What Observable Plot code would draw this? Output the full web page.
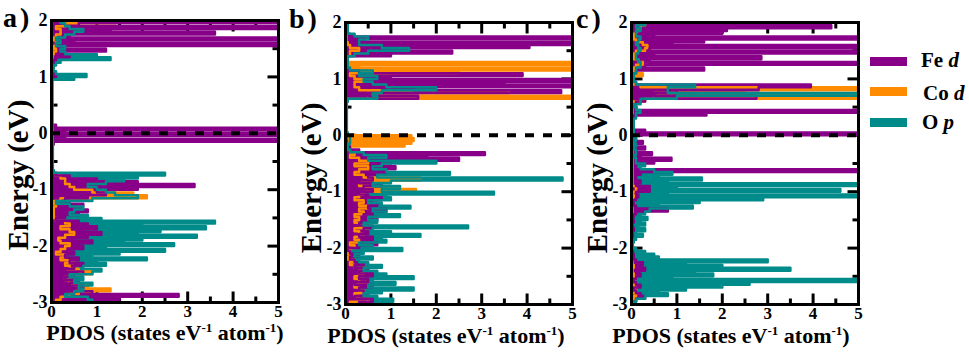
<!DOCTYPE html>
<html><head><meta charset="utf-8">
<script src="https://cdn.jsdelivr.net/npm/d3@7"></script>
<script src="https://cdn.jsdelivr.net/npm/@observablehq/plot@0.6"></script>
<style>
body{margin:0;background:#fff;}
#wrap{position:relative;width:969px;height:354px;overflow:hidden;color:#000;}
#overlay{position:absolute;left:0;top:0;}
#overlay text{font-family:'Liberation Serif',serif;font-weight:bold;}
.pbox{position:absolute;top:0;}
.pbox svg text{font-family:'Liberation Serif',serif !important;font-weight:bold !important;}
</style></head>
<body>
<div id="wrap">
<svg id="overlay" width="969" height="354" fill="#000">
  <text x="3" y="27" font-size="28" letter-spacing="3">a)</text>
  <text x="289" y="28" font-size="28" letter-spacing="3">b)</text>
  <text x="576" y="28" font-size="28" letter-spacing="3">c)</text>
  <text transform="translate(28,175) rotate(-90)" text-anchor="middle" font-size="29">Energy (eV)</text>
  <text transform="translate(321,178) rotate(-90)" text-anchor="middle" font-size="29">Energy (eV)</text>
  <text transform="translate(607,178) rotate(-90)" text-anchor="middle" font-size="29">Energy (eV)</text>
  <text x="165" y="340" text-anchor="middle" font-size="22">PDOS (states eV<tspan dy="-8" font-size="13">-1</tspan><tspan dy="8"> atom</tspan><tspan dy="-8" font-size="13">-1</tspan><tspan dy="8">)</tspan></text>
  <text x="446" y="343" text-anchor="middle" font-size="22">PDOS (states eV<tspan dy="-8" font-size="13">-1</tspan><tspan dy="8"> atom</tspan><tspan dy="-8" font-size="13">-1</tspan><tspan dy="8">)</tspan></text>
  <text x="731" y="343" text-anchor="middle" font-size="22">PDOS (states eV<tspan dy="-8" font-size="13">-1</tspan><tspan dy="8"> atom</tspan><tspan dy="-8" font-size="13">-1</tspan><tspan dy="8">)</tspan></text>
  <g id="legend"></g>
</svg>
<div id="pa" class="pbox" style="left:0px"></div>
<div id="pb" class="pbox" style="left:294px"></div>
<div id="pc" class="pbox" style="left:580px"></div>
</div>
<script>
// Energy grid (eV)
const energy = [-3,-2.95,-2.9,-2.85,-2.8,-2.75,-2.7,-2.65,-2.6,-2.55,-2.5,-2.45,-2.4,-2.35,-2.3,-2.25,-2.2,-2.15,-2.1,-2.05,-2,-1.95,-1.9,-1.85,-1.8,-1.75,-1.7,-1.65,-1.6,-1.55,-1.5,-1.45,-1.4,-1.35,-1.3,-1.25,-1.2,-1.15,-1.1,-1.05,-1,-0.95,-0.9,-0.85,-0.8,-0.75,-0.7,-0.65,-0.6,-0.55,-0.5,-0.45,-0.4,-0.35,-0.3,-0.25,-0.2,-0.15,-0.1,-0.05,0,0.05,0.1,0.15,0.2,0.25,0.3,0.35,0.4,0.45,0.5,0.55,0.6,0.65,0.7,0.75,0.8,0.85,0.9,0.95,1,1.05,1.1,1.15,1.2,1.25,1.3,1.35,1.4,1.45,1.5,1.55,1.6,1.65,1.7,1.75,1.8,1.85,1.9,1.95,2];

// Panel a
const feA = [0.3,1.5,2.8,0.9,0.5,0.7,0.4,0.6,0.3,0.5, 0.7,0.3,0.5,0.7,0.4,0.6,0.3,0.5,0.4,0.7, 0.6,0.9,0.5,0.8,1.1,0.7,1.0,0.8,0.6,0.1, 0.3,0.6,0.8,0.5,0.7,0.4,0.3,0.8,1.2,1.0, 1.9,3.15,1.9,1.0,0.4,0.1,0.02,0.01,0.01,0.01, 0.01,0.01,0.01,0.01,0.01,0.01,0.05,5,0.3,5, 0.3,5,0.1,0.01,0.01,0.01,0.01,0.01,0.01,0.01, 0.01,0.01,0.01,0.01,0.01,0.01,0.01,0.01,0.01,0.02, 0.1,0.05,0.02,0.02,0.02,0.05,0.1,0.4,0.2,1.2, 0.3,5,0.5,5,0.4,3.6,1.3,5,0.6,5, 1.4];
const coA = [0.1,0.2,0.4,0.6,1.3,0.8,0.5,0.4,0.3,0.5, 0.9,0.6,0.4,0.3,0.5,0.2,0.3,0.1,0.2,0.3, 0.4,0.2,0.15,0.3,0.5,0.4,0.2,0.4,0.3,0.1, 0.05,0.05,0.05,0.05,0.1,0.05,0.2,2.1,1.8,0.9, 0.5,0.4,0.3,0.3,0.2,0.1,0.01,0.01,0.01,0.01, 0.01,0.01,0.01,0.01,0.01,0.01,0.01,0.01,0.01,0.01, 0.01,0.01,0.01,0.01,0.01,0.01,0.01,0.01,0.01,0.01, 0.01,0.01,0.01,0.01,0.01,0.01,0.01,0.01,0.01,0.01, 0.01,0.01,0.01,0.01,0.01,0.01,0.02,0.02,0.05,0.1, 0.05,0.1,0.1,0.05,0.1,0.2,0.2,0.1,0.3,1.4, 0.8];
const opA = [0.9,0.8,0.3,0.5,0.7,0.6,0.9,0.5,0.7,0.4, 0.9,1.1,0.7,1.2,1.0,2.1,0.9,1.5,2.5,1.2, 2.7,1.6,2.0,3.2,1.9,2.4,3.4,2.0,3.6,1.1, 0.8,0.4,0.5,0.7,0.4,0.1,0.9,1.9,1.4,1.2, 1.0,0.8,1.2,1.6,1.9,2.5,0.05,0.03,0.03,0.03, 0.03,0.03,0.03,0.03,0.03,0.03,0.03,0.03,0.03,0.03, 0.03,0.02,0.02,0.02,0.02,0.02,0.02,0.02,0.02,0.02, 0.02,0.02,0.02,0.02,0.02,0.02,0.02,0.02,0.02,0.5, 0.77,0.1,0.05,0.05,0.1,0.2,1.3,1.0,0.3,0.2, 0.3,0.1,0.2,0.1,0.3,0.5,0.7,0.4,0.3,0.2, 0.1];

// Panel b
const feB = [0.3,0.6,0.2,0.5,0.4,0.3,0.6,0.2,0.5,0.3, 0.6,0.3,0.5,0.2,0.4,0.2,0.1,0.3,0.1,0.05, 0.3,0.7,0.4,0.6,0.3,0.5,0.4,0.6,0.3,0.5, 0.7,0.4,0.6,0.9,0.5,0.7,0.6,0.8,0.5,0.3, 0.6,0.4,0.8,0.3,0.6,0.5,0.9,0.6,1.1,0.7, 1.0,2.5,1.8,3.07,0.3,0.1,0.05,0.03,0.02,0.02, 0.01,0.01,0.01,0.01,0.01,0.01,0.01,0.01,0.01,0.01, 0.01,0.01,0.05,1.6,0.5,4.75,1.5,5,3.5,5, 1.0,3.9,0.3,0.05,0.05,0.05,0.05,0.05,1.0,2.35, 0.8,4.05,5,0.4,5,0.1,0.02,0.02,0.02,0.02, 0.02];
const coB = [0.1,0.5,0.3,0.2,0.4,0.3,0.2,0.5,0.3,0.2, 0.4,0.3,0.5,0.2,0.1,0.2,0.05,0.1,0.05,0.1, 0.2,0.1,0.3,0.2,0.4,0.3,0.2,0.5,0.3,0.2, 0.3,0.2,0.4,0.3,0.5,0.3,0.4,0.2,0.3,0.4, 1.55,0.6,0.3,0.5,1.65,0.4,0.2,0.3,0.5,0.2, 0.5,0.3,0.1,0.2,0.1,0.05,1.3,1.45,1.5,1.45, 0.05,0.01,0.01,0.01,0.01,0.01,0.01,0.01,0.01,0.01, 0.01,0.01,0.02,5,0.5,3.6,0.3,0.2,0.2,0.4, 0.2,0.1,2.5,5,0.3,5,0.02,0.02,0.1,0.1, 0.3,0.1,0.05,0.02,0.02,0.02,0.02,0.02,0.02,0.02, 0.02];
const opB = [0.9,1.05,0.7,0.4,0.8,1.5,0.5,1.1,0.6,1.5, 0.9,0.7,0.4,0.8,0.5,0.3,0.6,0.2,0.4,1.25, 0.6,0.3,0.9,0.8,1.65,1.0,0.6,2.7,0.4,0.7, 0.5,1.2,0.9,0.6,1.43,0.8,0.5,1.0,0.9,3.27, 0.8,1.2,0.6,1.0,4.78,0.7,2.3,0.9,0.6,0.8, 2.0,0.5,0.9,0.4,0.1,0.05,0.05,0.1,0.1,0.1, 0.05,0.03,0.03,0.03,0.03,0.03,0.03,0.03,0.03,0.03, 0.03,0.03,0.05,0.7,0.6,0.8,2.0,0.9,0.6,0.4, 0.7,0.3,0.6,0.1,0.05,0.05,0.05,0.05,0.2,0.5, 1.4,0.8,0.3,0.3,0.5,0.2,0.05,0.05,0.05,0.05, 0.05];

// Panel c
const feC = [0.05,0.1,0.3,0.2,0.1,0.05,0.2,0.1,0.05,0.1, 0.2,0.15,0.3,0.2,0.25,0.1,0.05,0.05,0.03,0.02, 0.02,0.02,0.03,0.02,0.03,0.02,0.05,0.03,0.02,0.05, 0.03,0.05,0.1,0.8,0.1,0.05,0.03,0.1,0.15,0.1, 0.4,0.4,0.1,0.2,0.1,0.1,0.2,5,0.1,0.1, 0.5,0.88,0.2,0.45,0.1,0.3,0.1,0.25,0.1,0.05, 5,0.3,0.05,0.02,0.02,0.02,0.05,1.65,5,0.1, 0.05,0.1,0.3,2.75,0.5,1.0,2.8,3.95,0.1,0.05, 0.05,0.05,0.1,1.6,0.3,5,0.4,2.86,0.5,5, 0.4,5,0.9,1.6,5,0.5,2.0,2.1,4.4,0.5, 4.45];
const coC = [0.02,0.1,0.05,0.1,0.05,0.1,0.05,0.1,0.05,0.1, 0.05,0.02,0.02,0.05,0.02,0.02,0.05,0.02,0.02,0.02, 0.02,0.02,0.02,0.02,0.02,0.02,0.02,0.02,0.02,0.02, 0.02,0.02,0.02,0.02,0.02,0.02,0.02,0.02,0.05,0.02, 0.1,0.1,0.02,0.02,0.02,0.02,0.02,0.02,0.02,0.02, 0.02,0.02,0.02,0.02,0.02,0.02,0.02,0.02,0.02,0.02, 0.02,0.02,0.02,0.02,0.02,0.02,0.02,0.02,0.02,0.02, 0.02,0.02,0.3,5,0.5,2.5,5,0.2,0.05,0.05, 0.05,0.25,0.05,0.05,0.1,0.25,0.15,0.05,0.05,0.1, 0.3,0.35,0.25,0.1,0.05,0.05,0.1,0.15,0.2,0.3, 0.2];
const opC = [0.05,0.1,0.3,0.8,0.6,1.2,2.0,2.6,5,0.9, 1.8,1.4,3.5,2.0,1.2,3.0,0.6,0.5,0.3,0.1, 0.03,0.03,0.05,0.1,0.25,0.1,0.3,0.15,0.3,0.2, 0.35,0.2,0.3,0.4,1.35,0.6,1.5,2.9,5,0.8, 4.6,1.0,5,0.8,1.55,0.6,0.9,0.5,0.2,0.3, 0.1,0.1,0.05,0.1,0.1,0.05,0.1,0.05,0.1,0.05, 0.05,0.05,0.05,0.05,0.05,0.05,0.1,0.1,0.2,0.1, 0.05,0.2,0.2,1.0,5,0.8,0.8,1.4,0.1,0.05, 0.05,0.05,0.1,0.1,0.2,0.2,0.15,0.1,0.1,0.15, 0.2,0.15,0.1,0.15,0.2,0.1,0.1,0.2,0.1,0.3, 0.2];

// Ticks and legend
const xMajor = [0,1,2,3,4,5];
const xMinor = [0.5,1.5,2.5,3.5,4.5];
const yMajor = [-3,-2,-1,0,1,2];
const yMinor = [-2.5,-1.5,-0.5,0.5,1.5];
const seriesNames = ["Fe d","Co d","O p"];
const seriesColors = ["#880088","#ff8c00","#008b8b"];

const PURPLE = seriesColors[0], ORANGE = seriesColors[1], TEAL = seriesColors[2];
const FONT = "'Liberation Serif', serif";
const CV = "step-before";

function seg(dx, dy) { return {draw(ctx) { ctx.moveTo(0, 0); ctx.lineTo(dx, dy); }}; }

function tickMarks(xs, ys, len) {
  const s = {stroke: "black", strokeWidth: 3, fill: "none"};
  return [
    Plot.dot(xs, {x: d => d, frameAnchor: "bottom", symbol: seg(0, -len), ...s}),
    Plot.dot(xs, {x: d => d, frameAnchor: "top", symbol: seg(0, len), ...s}),
    Plot.dot(ys, {y: d => d, frameAnchor: "left", symbol: seg(len, 0), ...s}),
    Plot.dot(ys, {y: d => d, frameAnchor: "right", symbol: seg(-len, 0), ...s})
  ];
}

const fillOf = (rows, key, color) => Plot.areaX(rows, {x1: 0, x2: key, y: "e", fill: color, curve: CV, clip: true});
const lineOf = (rows, key, color) => Plot.line(rows, {x: key, y: "e", stroke: color, strokeWidth: 2.5, curve: CV, clip: true});

function panel(fe, co, op, width, top) {
  const rows = energy.map((e, i) => ({e, fe: fe[i], co: co[i], op: op[i]}));
  return Plot.plot({
    width, height: 354,
    marginLeft: 51, marginRight: width - 51 - 227,
    marginTop: top, marginBottom: 354 - top - 282,
    x: {domain: [0, 5]},
    y: {domain: [-3, 2]},
    style: {fontFamily: FONT, fontWeight: "bold", fontSize: "17px", background: "transparent", overflow: "visible", color: "black"},
    marks: [
      Plot.axisX(xMajor, {anchor: "bottom", tickSize: 0, tickPadding: 2, label: null, tickFormat: d => String(d), fontSize: 17}),
      Plot.axisY(yMajor, {anchor: "left", tickSize: 0, tickPadding: 4, label: null, tickFormat: d => String(d), fontSize: 18}),
      ...tickMarks(xMajor, yMajor, 11),
      ...tickMarks(xMinor, yMinor, 6),
      fillOf(rows, "op", TEAL),
      fillOf(rows, "co", ORANGE),
      fillOf(rows, "fe", PURPLE),
      lineOf(rows, "co", ORANGE),
      lineOf(rows, "fe", PURPLE),
      lineOf(rows, "op", TEAL),
      Plot.ruleY([0], {stroke: "black", strokeWidth: 4, strokeDasharray: "9,9"}),
      Plot.frame({stroke: "black", strokeWidth: 3})
    ]
  });
}

document.getElementById("pa").append(panel(feA, coA, opA, 294, 20));
document.getElementById("pb").append(panel(feB, coB, opB, 286, 22));
document.getElementById("pc").append(panel(feC, coC, opC, 288, 22));

// Legend
const lg = document.getElementById("legend");
const ns = "http://www.w3.org/2000/svg";
const rowY = [57, 87, 118];
const textX = [921, 923, 922];
const baseY = [67, 100, 129];
seriesNames.forEach((name, i) => {
  const r = document.createElementNS(ns, "rect");
  r.setAttribute("x", 870); r.setAttribute("y", rowY[i]);
  r.setAttribute("width", 37); r.setAttribute("height", 9);
  r.setAttribute("fill", seriesColors[i]);
  lg.append(r);
  const t = document.createElementNS(ns, "text");
  t.setAttribute("x", textX[i]); t.setAttribute("y", baseY[i]);
  t.setAttribute("font-size", 21);
  const [a, b] = name.split(" ");
  t.append(document.createTextNode(a + " "));
  const it = document.createElementNS(ns, "tspan");
  it.setAttribute("font-style", "italic");
  it.textContent = b;
  t.append(it);
  lg.append(t);
});
</script>
</body></html>
